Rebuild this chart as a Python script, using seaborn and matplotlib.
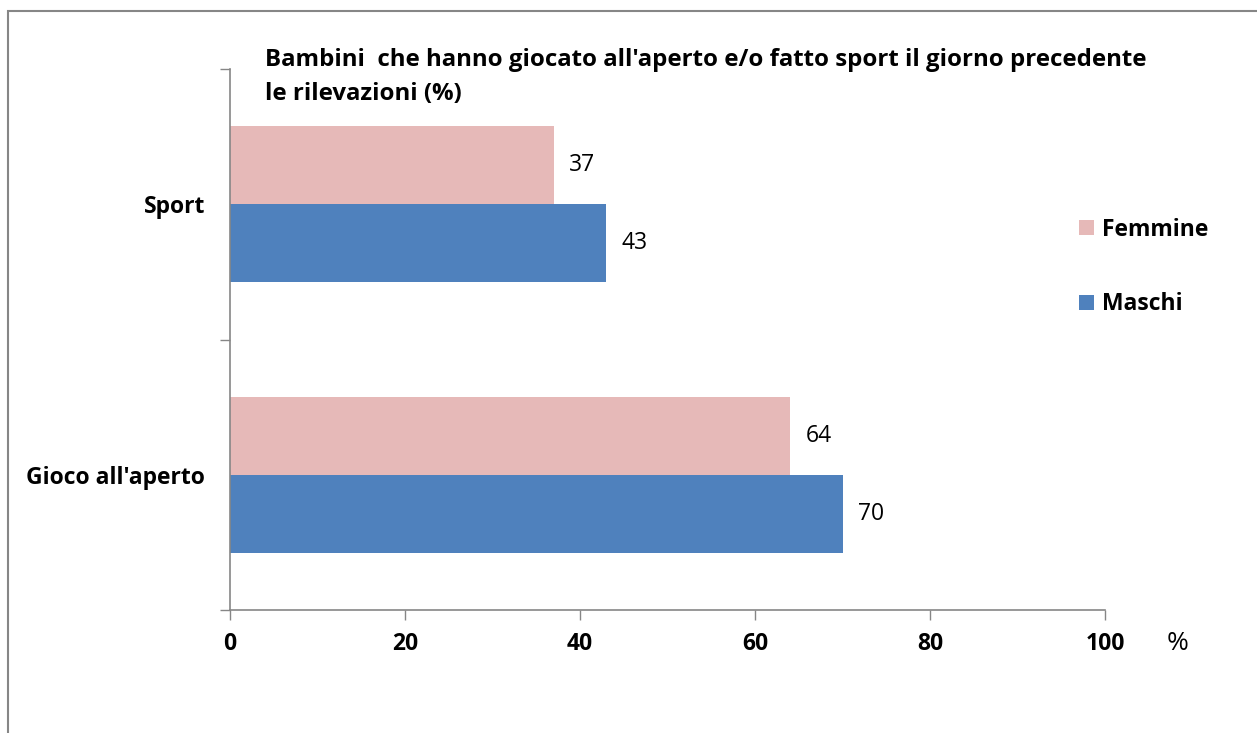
import matplotlib
matplotlib.use("Agg")
import matplotlib.pyplot as plt
from matplotlib.patches import Rectangle, Patch
import seaborn as sns
import pandas as pd

categories = ["Sport", "Gioco all'aperto"]
series_names = ["Femmine", "Maschi"]
femmine = [37, 64]
maschi = [43, 70]
x_ticks = [0, 20, 40, 60, 80, 100]
title = "Bambini  che hanno giocato all'aperto e/o fatto sport il giorno precedente\nle rilevazioni (%)"
colors = ["#E6B9B8", "#4F81BD"]

rows = []
for c, f, m in zip(categories, femmine, maschi):
    rows.append({"cat": c, "sex": series_names[0], "val": f})
    rows.append({"cat": c, "sex": series_names[1], "val": m})
df = pd.DataFrame(rows)

sns.set_theme(style="white")
plt.rcParams['font.family'] = ['Open Sans', 'DejaVu Sans']
plt.rcParams['text.color'] = 'black'
plt.rcParams['xtick.color'] = 'black'
plt.rcParams['ytick.color'] = 'black'

FS = 16.5
fig = plt.figure(figsize=(12.57, 7.33), dpi=100)
ax = fig.add_axes([230/1257, 1-610/733, (1105-230)/1257, (610-69)/733])

sns.barplot(data=df, y="cat", x="val", hue="sex", order=categories,
            hue_order=series_names, palette=colors, orient="h",
            width=0.575, saturation=1, ax=ax, legend=False, edgecolor="none")

ax.set_xlim(0, 100)
ax.set_ylim(1.5, -0.5)
ax.set_xticks(x_ticks)
ax.set_xticklabels([str(t) for t in x_ticks], fontsize=FS, fontweight="bold")
ax.set_yticks(range(len(categories)))
ax.set_yticklabels(categories, fontsize=FS, fontweight="bold")
ax.set_yticks([-0.5, 0.5, 1.5], minor=True)
ax.tick_params(axis="y", which="major", length=0, pad=18, labelcolor="black")
ax.tick_params(axis="y", which="minor", length=7, width=1, color="#868686", direction="out", left=True)
ax.tick_params(axis="x", length=7, width=1, color="#868686", direction="out", bottom=True, pad=9, labelcolor="black")
ax.set_xlabel("")
ax.set_ylabel("")
for s in ["top", "right"]:
    ax.spines[s].set_visible(False)
for s in ["left", "bottom"]:
    ax.spines[s].set_color("#868686")
    ax.spines[s].set_linewidth(1.2)

for cont in ax.containers:
    ax.bar_label(cont, labels=[f"{v:.0f}" for v in cont.datavalues],
                 padding=11, fontsize=FS, color="black")

handles = [Patch(facecolor=colors[i], edgecolor="none", label=series_names[i]) for i in range(2)]
fig.legend(handles=handles, loc="center left", bbox_to_anchor=(1058/1257, 1-267/733),
           frameon=False, prop={"weight": "bold", "size": FS},
           handlelength=0.65, handleheight=0.65, handletextpad=0.35, labelspacing=2.2)

fig.text(265/1257, 1-77/733, title, fontsize=17.3, fontweight="bold",
         ha="left", va="center", linespacing=1.55, color="black")
fig.text(1178/1257, 1-643/733, "%", fontsize=19, ha="center", va="center", color="black")

fig.patches.append(Rectangle((8/1257, -0.1), 1.2, 1.1 - 11/733,
                             transform=fig.transFigure, fill=False,
                             edgecolor="#868686", linewidth=1.5))

fig.savefig("out.png", dpi=100)
